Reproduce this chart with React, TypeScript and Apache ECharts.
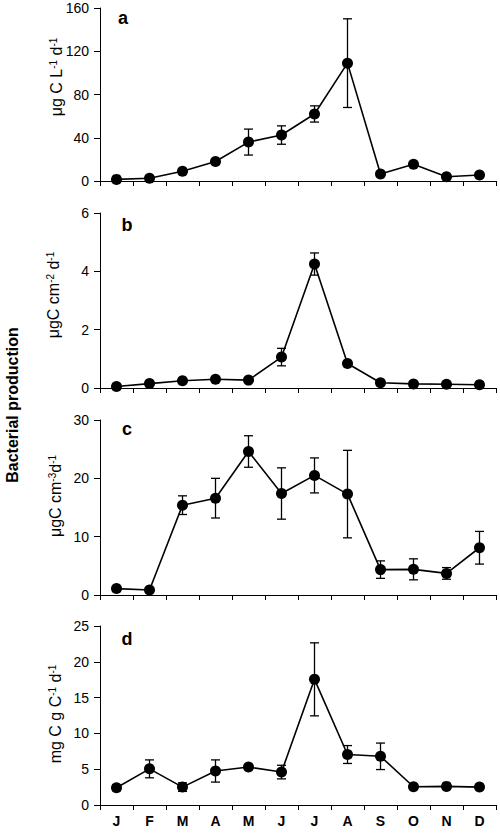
import React, { useEffect, useRef } from "react";
import * as echarts from "echarts";

// Month categories
const months = ["J", "F", "M", "A", "M", "J", "J", "A", "S", "O", "N", "D"];

// Panel a: µg C L-1 d-1
const prodA = [1.5, 2.5, 9, 18, 36, 42.5, 62, 109, 6.5, 15.5, 4, 5.5];
const errA = [0, 0, 0, 0, 12, 8.5, 7.5, 41, 0, 0, 0, 0];

// Panel b: µgC cm-2 d-1
const prodB = [0.05, 0.15, 0.25, 0.3, 0.27, 1.06, 4.25, 0.84, 0.18, 0.14, 0.13, 0.11];
const errB = [0, 0, 0, 0, 0, 0.3, 0.38, 0, 0, 0, 0, 0];

// Panel c: µgC cm-3 d-1
const prodC = [1.1, 0.86, 15.4, 16.6, 24.6, 17.4, 20.5, 17.3, 4.35, 4.4, 3.7, 8.1];
const errC = [0, 0, 1.6, 3.4, 2.7, 4.4, 3.0, 7.5, 1.5, 1.8, 1.0, 2.8];

// Panel d: mg C g C-1 d-1
const prodD = [2.4, 5.05, 2.5, 4.75, 5.3, 4.6, 17.55, 7.05, 6.8, 2.55, 2.6, 2.5];
const errD = [0.4, 1.25, 0.6, 1.55, 0.3, 0.95, 5.1, 1.25, 1.85, 0, 0.4, 0.2];

// Axis scales
const yMax = [160, 6, 30, 25];
const yInterval = [40, 2, 10, 5];

const panelLetters = ["a", "b", "c", "d"];
const panelTitles = [
  "μg C L{s|-1} d{s|-1}",
  "μgC cm{s|-2} d{s|-1}",
  "μgC cm{s|-3}d{s|-1}",
  "mg C g C{s|-1} d{s|-1}",
];
const sideTitle = "Bacterial production";

const FONT = "'Liberation Sans', Arial, Helvetica, sans-serif";

export default function App() {
  const ref = useRef<HTMLDivElement>(null);

  useEffect(() => {
    if (!ref.current) return;
    const chart = echarts.init(ref.current, undefined, { renderer: "svg" });

    const grids = [
      { left: 100, top: 8, width: 396, height: 173 },
      { left: 100, top: 213, width: 396, height: 175 },
      { left: 100, top: 420, width: 396, height: 175 },
      { left: 100, top: 626, width: 396, height: 179 },
    ];
    const values = [prodA, prodB, prodC, prodD];
    const errors = [errA, errB, errC, errD];

    const xAxes = grids.map((_, i) => ({
      type: "category",
      gridIndex: i,
      data: months,
      boundaryGap: true,
      axisLine: { show: true, lineStyle: { color: "#000", width: 1 } },
      axisTick: { show: true, length: 5, inside: false, interval: 0, lineStyle: { color: "#000" } },
      axisLabel: {
        show: i === 3,
        interval: 0,
        color: "#000",
        fontFamily: FONT,
        fontWeight: "bold",
        fontSize: 14,
        margin: 9,
      },
      splitLine: { show: false },
    }));

    const yAxes = grids.map((_, i) => ({
      type: "value",
      gridIndex: i,
      min: 0,
      max: yMax[i],
      interval: yInterval[i],
      axisLine: { show: true, lineStyle: { color: "#000", width: 1 } },
      axisTick: { show: true, length: 6, lineStyle: { color: "#000" } },
      axisLabel: { color: "#000", fontFamily: FONT, fontSize: 14, margin: 11 },
      splitLine: { show: false },
    }));

    const series: any[] = [];
    values.forEach((vals, i) => {
      const errData = vals
        .map((v, k) => [k, v - errors[i][k], v + errors[i][k], errors[i][k]])
        .filter((d) => d[3] > 0);
      series.push({
        type: "custom",
        xAxisIndex: i,
        yAxisIndex: i,
        z: 1,
        silent: true,
        data: errData,
        encode: { x: 0, y: [1, 2] },
        renderItem: (params: any, api: any) => {
          const k = api.value(0);
          const lo = api.coord([k, api.value(1)]);
          const hi = api.coord([k, api.value(2)]);
          const cap = 4.5;
          const style = { stroke: "#000", lineWidth: 1.3 };
          return {
            type: "group",
            children: [
              { type: "line", shape: { x1: lo[0], y1: lo[1], x2: hi[0], y2: hi[1] }, style },
              { type: "line", shape: { x1: lo[0] - cap, y1: lo[1], x2: lo[0] + cap, y2: lo[1] }, style },
              { type: "line", shape: { x1: hi[0] - cap, y1: hi[1], x2: hi[0] + cap, y2: hi[1] }, style },
            ],
          };
        },
      });
      series.push({
        type: "line",
        xAxisIndex: i,
        yAxisIndex: i,
        z: 3,
        data: vals,
        symbol: "circle",
        symbolSize: 11,
        clip: false,
        lineStyle: { color: "#000", width: 1.6 },
        itemStyle: { color: "#000", borderWidth: 0 },
      });
    });

    const titleCenters = [
      [56, 77],
      [53, 295],
      [55, 496],
      [55, 714],
    ];
    const letterPos = [
      [123, 18],
      [127, 225],
      [127, 429],
      [127, 639],
    ];

    const graphics: any[] = [];
    panelTitles.forEach((t, i) => {
      graphics.push({
        type: "text",
        x: titleCenters[i][0],
        y: titleCenters[i][1],
        rotation: Math.PI / 2,
        style: {
          text: t,
          fill: "#000",
          fontFamily: FONT,
          fontSize: 16,
          align: "center",
          verticalAlign: "middle",
          rich: {
            s: { fontSize: 10, fontFamily: FONT, fill: "#000", verticalAlign: "top", lineHeight: 16 },
          },
        },
      });
      graphics.push({
        type: "text",
        x: letterPos[i][0],
        y: letterPos[i][1],
        style: {
          text: panelLetters[i],
          fill: "#000",
          fontFamily: FONT,
          fontSize: 18,
          fontWeight: "bold",
          align: "center",
          verticalAlign: "middle",
        },
      });
    });
    graphics.push({
      type: "text",
      x: 12,
      y: 405,
      rotation: Math.PI / 2,
      style: {
        text: sideTitle,
        fill: "#000",
        fontFamily: FONT,
        fontSize: 16,
        fontWeight: "bold",
        align: "center",
        verticalAlign: "middle",
      },
    });

    chart.setOption({
      animation: false,
      backgroundColor: "#fff",
      grid: grids,
      xAxis: xAxes,
      yAxis: yAxes,
      series,
      graphic: graphics,
    });

    return () => chart.dispose();
  }, []);

  return (
    <div
      ref={ref}
      style={{ position: "fixed", left: 0, top: 0, width: 500, height: 834, background: "#fff" }}
    />
  );
}
